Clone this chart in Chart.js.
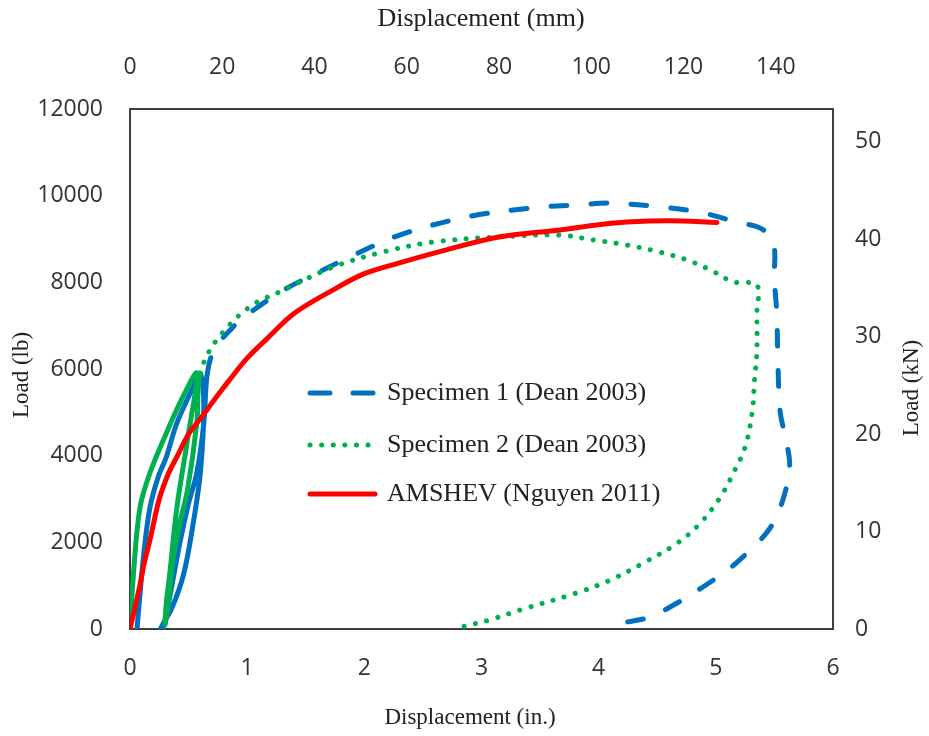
<!DOCTYPE html>
<html>
<head>
<meta charset="utf-8">
<script src="https://cdn.jsdelivr.net/npm/chart.js@4/dist/chart.umd.min.js"></script>
<style>
  html, body { margin: 0; padding: 0; background: #fff; }
  #wrap { width: 929px; height: 736px; }
</style>
</head>
<body>
<div id="wrap"><canvas id="loadChart" width="929" height="736"></canvas></div>
<script>
// ===============================
// Data (displacement in inches, load in lb)
// ===============================
const spec1X = [0.06, 0.085, 0.12, 0.17, 0.24, 0.31, 0.40, 0.54, 0.60,
  0.63, 0.60, 0.54, 0.46, 0.36, 0.26,
  0.28, 0.35, 0.43, 0.50, 0.57, 0.63, 0.66, 0.72, 0.88, 1.02, 1.31, 1.60, 1.88, 2.30, 2.88, 3.44, 3.84, 4.10,
  4.52, 4.86, 5.18, 5.38, 5.49, 5.50, 5.52, 5.53, 5.55, 5.60, 5.63, 5.58, 5.49, 5.38, 5.23, 5.10,
  4.89, 4.67, 4.44, 4.24, 4.10];
const spec1Y = [0, 800, 1800, 2800, 3500, 3970, 4750, 5590, 5900,
  5120, 3600, 2450, 1290, 500, 0,
  0, 900, 2050, 2900, 3600, 4750, 5900, 6450, 6970, 7290, 7820, 8220, 8590, 9090, 9510, 9720, 9790, 9830,
  9740, 9620, 9390, 9250, 8930, 8050, 7290, 6140, 4990, 4360, 3740, 3050, 2450, 2050, 1660, 1360,
  970, 600, 280, 160, 90];

const spec2X = [0, 0.03, 0.085, 0.17, 0.31, 0.45, 0.57,
  0.49, 0.40, 0.34, 0.31, 0.30,
  0.33, 0.37, 0.43, 0.49, 0.57, 0.60, 0.74, 1.02, 1.31, 1.73, 2.16, 2.59, 3.16, 3.67, 3.95, 4.24,
  4.52, 4.75, 4.95, 5.15, 5.35, 5.35, 5.35, 5.33, 5.31, 5.25, 5.15, 5.04, 4.87, 4.67, 4.38, 4.10,
  3.81, 3.33, 3.07, 2.83];
const spec2Y = [0, 1290, 2800, 3600, 4520, 5350, 5900,
  4360, 2800, 1290, 600, 100,
  700, 1660, 2500, 3200, 4750, 5900, 6670, 7430, 7820, 8350, 8700, 8930, 9050, 9090, 8980, 8860,
  8700, 8520, 8290, 8010, 7940, 7290, 6370, 5750, 4990, 4200, 3600, 3050, 2450, 1980, 1520, 1130,
  830, 440, 210, 50];

const amshevX = [0, 0.08, 0.12, 0.17, 0.25, 0.33, 0.40, 0.50, 0.60, 0.66, 0.75, 0.85, 1.00, 1.17, 1.40,
  1.73, 2.00, 2.30, 2.70, 3.16, 3.67, 4.00, 4.24, 4.60, 5.01];
const amshevY = [0, 950, 1500, 2050, 3000, 3600, 3970, 4500, 4850, 5070, 5400, 5750, 6250, 6700, 7280,
  7820, 8200, 8450, 8750, 9050, 9210, 9330, 9390, 9420, 9380];

const seriesNames = ["Specimen 1 (Dean 2003)", "Specimen 2 (Dean 2003)", "AMSHEV (Nguyen 2011)"];

// axis ranges and tick steps
const inMax = 6, inStep = 1;
const lbMax = 12000, lbStep = 2000;
const mmMax = inMax * 25.4, mmStep = 20;
const kNMax = lbMax * 0.00444822, kNStep = 10;

// ===============================
// Styles
// ===============================
const BLUE = "#0070C0";
const GREEN = "#00B050";
const RED = "#FF0000";
const AXIS = "#404040";
const TEXT = "#222";
const TICK_FONT = { family: "'Open Sans', sans-serif", size: 23 };
const DASH1 = [16, 24];
const DOTS2 = [0.1, 11.5];

function toPoints(xs, ys) {
  return xs.map((x, i) => ({ x: x, y: ys[i] }));
}

// solid through the dense cyclic part near the origin, like the original plot
function nearOrigin(ctx) {
  return ctx.p0.parsed.x < 0.7 && ctx.p1.parsed.x < 0.7;
}

// ===============================
// Plugin: legend inside plot + axis titles
// ===============================
const extrasPlugin = {
  id: "extras",
  afterDraw(chart) {
    const c = chart.ctx;
    const rows = [
      { y: 393, color: BLUE, dash: [20, 23] },
      { y: 445, color: GREEN, dash: DOTS2 },
      { y: 494, color: RED, dash: [] },
    ];
    c.save();
    rows.forEach((r, i) => {
      c.beginPath();
      c.strokeStyle = r.color;
      c.lineWidth = 5;
      c.lineCap = "round";
      c.setLineDash(r.dash);
      c.moveTo(310, r.y);
      c.lineTo(375, r.y);
      c.stroke();
      c.setLineDash([]);
      c.fillStyle = TEXT;
      c.font = "26px 'Liberation Serif', serif";
      c.textAlign = "left";
      c.textBaseline = "middle";
      c.fillText(seriesNames[i], 387, r.y);
    });

    c.fillStyle = TEXT;
    c.textAlign = "center";
    c.textBaseline = "middle";

    // top and bottom titles
    c.font = "26px 'Liberation Serif', serif";
    c.fillText("Displacement (mm)", 481, 19);
    c.font = "23px 'Liberation Serif', serif";
    c.fillText("Displacement (in.)", 470, 718);

    // left and right titles, both reading upward
    c.save();
    c.translate(22, 375);
    c.rotate(-Math.PI / 2);
    c.fillText("Load (lb)", 0, 0);
    c.restore();

    c.translate(912, 388);
    c.rotate(-Math.PI / 2);
    c.fillText("Load (kN)", 0, 0);
    c.restore();
  },
};

// ===============================
// Chart
// ===============================
function axisBase() {
  return {
    type: "linear",
    grid: { display: false, drawTicks: false },
    border: { display: true, color: AXIS, width: 2 },
    title: { display: false },
  };
}

function tickOpts(step, pad, bounds) {
  return {
    stepSize: step,
    includeBounds: bounds,
    font: TICK_FONT,
    color: "#333",
    padding: pad,
    maxRotation: 0,
    callback: (v) => String(v),
  };
}

const lineBase = {
  showLine: true,
  borderWidth: 5,
  pointRadius: 0,
  tension: 0.35,
  borderCapStyle: "round",
  borderJoinStyle: "round",
};

const chart = new Chart(document.getElementById("loadChart"), {
  type: "scatter",
  data: {
    datasets: [
      {
        ...lineBase,
        label: seriesNames[2],
        data: toPoints(amshevX, amshevY),
        borderColor: RED,
        order: 0,
      },
      {
        ...lineBase,
        label: seriesNames[1],
        data: toPoints(spec2X, spec2Y),
        borderColor: GREEN,
        borderDash: DOTS2,
        segment: { borderDash: (ctx) => (nearOrigin(ctx) ? [] : DOTS2) },
        order: 1,
      },
      {
        ...lineBase,
        label: seriesNames[0],
        data: toPoints(spec1X, spec1Y),
        borderColor: BLUE,
        borderDash: DASH1,
        segment: { borderDash: (ctx) => (nearOrigin(ctx) ? [] : DASH1) },
        order: 2,
      },
    ],
  },
  options: {
    responsive: false,
    animation: false,
    layout: { padding: 0 },
    plugins: {
      legend: { display: false },
      tooltip: { enabled: false },
    },
    scales: {
      x: {
        ...axisBase(),
        position: "bottom",
        min: 0,
        max: inMax,
        ticks: tickOpts(inStep, 26, true),
        afterFit: (s) => { s.height = 107; },
      },
      x2: {
        ...axisBase(),
        position: "top",
        min: 0,
        max: mmMax,
        ticks: tickOpts(mmStep, 28, false),
        afterFit: (s) => { s.height = 109; },
      },
      y: {
        ...axisBase(),
        position: "left",
        min: 0,
        max: lbMax,
        ticks: tickOpts(lbStep, 27, true),
        afterFit: (s) => { s.width = 130; },
      },
      y2: {
        ...axisBase(),
        position: "right",
        min: 0,
        max: kNMax,
        ticks: tickOpts(kNStep, 22, false),
        afterFit: (s) => { s.width = 96; },
      },
    },
  },
  plugins: [extrasPlugin],
});
</script>
</body>
</html>
